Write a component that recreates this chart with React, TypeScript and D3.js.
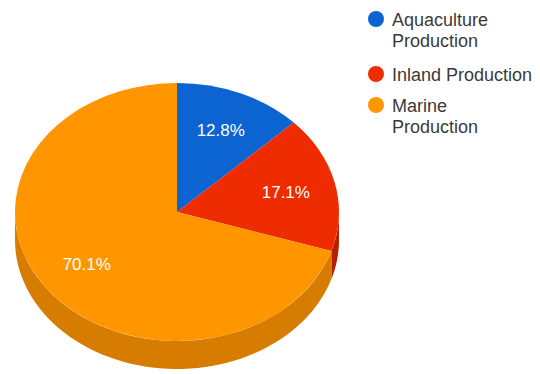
import React from "react";
import * as d3 from "d3";

const categories = ["Aquaculture Production", "Inland Production", "Marine Production"];
const legendLines = [["Aquaculture", "Production"], ["Inland Production"], ["Marine", "Production"]];
const values = [12.8, 17.1, 70.1];
const colors = ["#0b64d1", "#ef2b00", "#ff9600"];
const sideColors = ["#084ea3", "#b61f00", "#d67c00"];

const W = 540, H = 374;
const cx = 177, cy = 212, rx = 162, ry = 129, depth = 28;

export default function App() {
  const pie = d3.pie<number>().sort(null).value((d) => d);
  const arcs = pie(values);
  const R = 100;
  const arc = d3.arc<d3.PieArcDatum<number>>().innerRadius(0).outerRadius(R);
  const px = (a: number) => cx + rx * Math.sin(a);
  const py = (a: number) => cy - ry * Math.cos(a);

  const sides: { d: string; c: string }[] = [];
  arcs.forEach((a, i) => {
    const s = Math.max(a.startAngle, Math.PI / 2);
    const e = Math.min(a.endAngle, (3 * Math.PI) / 2);
    if (e <= s) return;
    const n = 60;
    const angs = d3.range(n + 1).map((k) => s + ((e - s) * k) / n);
    const p = d3.path();
    angs.forEach((t, k) => (k === 0 ? p.moveTo(px(t), py(t)) : p.lineTo(px(t), py(t))));
    angs.slice().reverse().forEach((t) => p.lineTo(px(t), py(t) + depth));
    p.closePath();
    sides.push({ d: p.toString(), c: sideColors[i] });
  });

  const labelFrac = 0.69;
  const legendX = 376;
  const legendY = [19, 74, 105];

  return (
    <svg width={W} height={H} style={{ position: "absolute", left: 0, top: 0, fontFamily: "Arial, 'Liberation Sans', sans-serif" }}>
      <rect width={W} height={H} fill="#fff" />
      {sides.map((s, i) => (
        <path key={"s" + i} d={s.d} fill={s.c} />
      ))}
      <g transform={`translate(${cx},${cy}) scale(${rx / R},${ry / R})`}>
        {arcs.map((a, i) => (
          <path key={"a" + i} d={arc(a) || ""} fill={colors[i]} />
        ))}
      </g>
      {arcs.map((a, i) => {
        const m = (a.startAngle + a.endAngle) / 2;
        const x = cx + rx * labelFrac * Math.sin(m);
        const y = cy - ry * labelFrac * Math.cos(m);
        return (
          <text key={"l" + i} x={x} y={y} dy="0.35em" textAnchor="middle" fill="#fff" fontSize={17}>
            {d3.format(".1f")(values[i])}%
          </text>
        );
      })}
      {categories.map((c, i) => (
        <g key={"g" + i}>
          <circle cx={legendX} cy={legendY[i]} r={8} fill={colors[i]} />
          {legendLines[i].map((t, j) => (
            <text key={j} x={392} y={legendY[i] + 7 + j * 21} fontSize={18} fill="#3a3a3a">
              {t}
            </text>
          ))}
        </g>
      ))}
    </svg>
  );
}
